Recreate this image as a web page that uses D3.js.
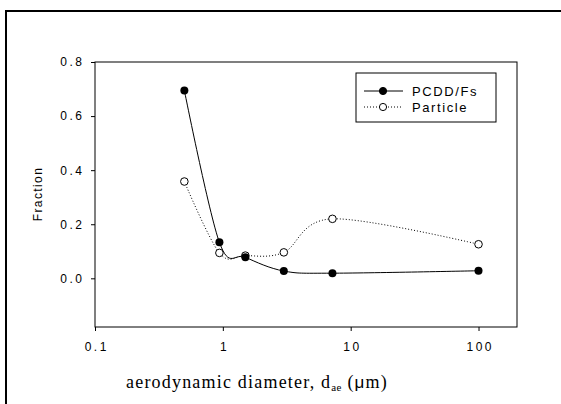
<!DOCTYPE html>
<html>
<head>
<meta charset="utf-8">
<script src="https://cdn.jsdelivr.net/npm/d3@7"></script>
<style>
  body { margin: 0; background: #fff; }
  svg { display: block; }
  .axis text { font-family: "Liberation Sans", Arial, sans-serif; font-size: 12px; letter-spacing: 2.5px; fill: #000; }
  .axis path, .axis line { stroke: #000; }
</style>
</head>
<body>
<div id="chart"></div>
<script>
// aerodynamic diameter (um) of each stage
const sizes = [0.5, 0.94, 1.5, 3, 7.2, 100]
const pcdd = [0.695, 0.133, 0.078, 0.027, 0.019, 0.028]
const particle = [0.358, 0.094, 0.084, 0.096, 0.22, 0.126]
const xTicks = [0.1, 1, 10, 100]
const yTicks = [0, 0.2, 0.4, 0.6, 0.8]

const w = 561
const h = 404
const pLeft = 95, pRight = 517, pTop = 62, pBottom = 327

const svg = d3.select('#chart')
    .append('svg')
    .attr('width', w)
    .attr('height', h)

// outer figure frame (only top and left edges show)
svg.append('path')
    .attr('d', 'M6,' + h + 'V11H' + w)
    .attr('fill', 'none')
    .attr('stroke', '#000')
    .attr('stroke-width', 2)

const xScale = d3.scaleLog()
    .domain([0.1, 200])
    .range([pLeft, pRight])

const yScale = d3.scaleLinear()
    .domain([-0.18, 0.8])
    .range([pBottom, pTop])

// plot box
svg.append('rect')
    .attr('x', pLeft)
    .attr('y', pTop)
    .attr('width', pRight - pLeft)
    .attr('height', pBottom - pTop)
    .attr('fill', 'none')
    .attr('stroke', '#000')

const xAxis = d3.axisBottom(xScale)
    .tickValues(xTicks)
    .tickFormat(d3.format('~g'))
    .tickSize(4)
    .tickSizeOuter(0)
    .tickPadding(11)

const yAxis = d3.axisLeft(yScale)
    .tickValues(yTicks)
    .tickFormat(d3.format('.1f'))
    .tickSize(4)
    .tickSizeOuter(0)
    .tickPadding(6.5)

svg.append('g')
    .attr('class', 'axis')
    .attr('transform', 'translate(0,' + pBottom + ')')
    .call(xAxis)
    .call(g => g.select('.domain').remove())
    .call(g => g.selectAll('text').attr('dx', 1.25))

svg.append('g')
    .attr('class', 'axis')
    .attr('transform', 'translate(' + pLeft + ',0)')
    .call(yAxis)
    .call(g => g.select('.domain').remove())

// axis titles
svg.append('text')
    .attr('transform', 'rotate(-90)')
    .attr('x', -194)
    .attr('y', 42)
    .attr('text-anchor', 'middle')
    .attr('font-family', '"Liberation Sans", Arial, sans-serif')
    .attr('font-size', 12)
    .attr('letter-spacing', 1.4)
    .text('Fraction')

const xTitle = svg.append('text')
    .attr('x', 126)
    .attr('y', 388)
    .attr('font-family', '"Liberation Serif", "Times New Roman", serif')
    .attr('font-size', 18)
    .attr('letter-spacing', 1.2)
xTitle.append('tspan').text('aerodynamic diameter, d')
xTitle.append('tspan').attr('font-size', 11).attr('dy', 3).attr('letter-spacing', 0.3).text('ae')
xTitle.append('tspan').attr('dy', -3).text(' (')
xTitle.append('tspan').attr('font-family', '"Liberation Sans", Arial, sans-serif').attr('font-size', 17).text('μ')
xTitle.append('tspan').text('m)')

const line = d3.line()
    .x((d, i) => xScale(sizes[i]))
    .y(d => yScale(d))
    .curve(d3.curveCatmullRom.alpha(0))

svg.append('path')
    .datum(particle)
    .attr('d', line)
    .attr('fill', 'none')
    .attr('stroke', '#000')
    .attr('stroke-dasharray', '1,2')

svg.append('path')
    .datum(pcdd)
    .attr('d', line)
    .attr('fill', 'none')
    .attr('stroke', '#000')

svg.selectAll('.dot-part')
    .data(particle)
    .enter()
    .append('circle')
    .attr('class', 'dot-part')
    .attr('cx', (d, i) => xScale(sizes[i]))
    .attr('cy', d => yScale(d))
    .attr('r', 3.8)
    .attr('fill', '#fff')
    .attr('stroke', '#000')

svg.selectAll('.dot-pcdd')
    .data(pcdd)
    .enter()
    .append('circle')
    .attr('class', 'dot-pcdd')
    .attr('cx', (d, i) => xScale(sizes[i]))
    .attr('cy', d => yScale(d))
    .attr('r', 4)
    .attr('fill', '#000')

// legend
const legend = svg.append('g').attr('transform', 'translate(356,73)')
legend.append('rect')
    .attr('width', 140)
    .attr('height', 49)
    .attr('fill', '#fff')
    .attr('stroke', '#000')

const items = [
    { name: 'PCDD/Fs', dash: null, fill: '#000' },
    { name: 'Particle', dash: '1,2', fill: '#fff' }
]
items.forEach((it, i) => {
    const yy = 18 + i * 16
    legend.append('line')
        .attr('x1', 8).attr('x2', 47)
        .attr('y1', yy).attr('y2', yy)
        .attr('stroke', '#000')
        .attr('stroke-dasharray', it.dash)
    legend.append('circle')
        .attr('cx', 27).attr('cy', yy)
        .attr('r', 3.6)
        .attr('fill', it.fill)
        .attr('stroke', '#000')
    legend.append('text')
        .attr('x', 56).attr('y', yy + 4.5)
        .attr('font-family', '"Liberation Sans", Arial, sans-serif')
        .attr('font-size', 13)
        .attr('letter-spacing', 1.6)
        .text(it.name)
})
</script>
</body>
</html>
